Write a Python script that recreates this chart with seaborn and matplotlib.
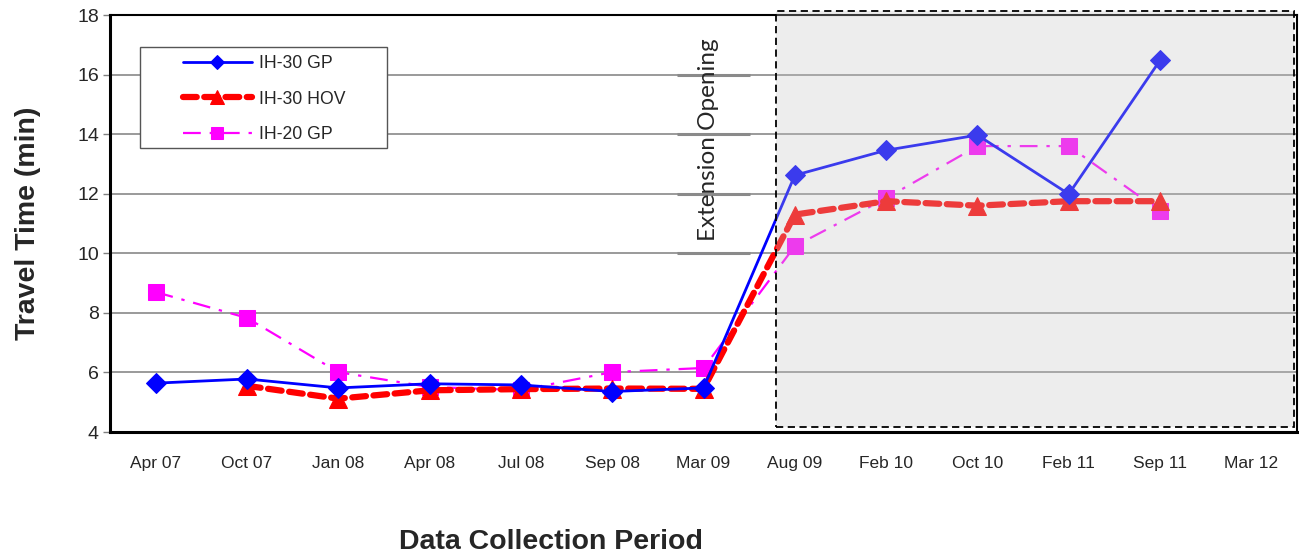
import numpy as np
import pandas as pd
import matplotlib
matplotlib.use("Agg")
import matplotlib.pyplot as plt
from matplotlib.patches import Rectangle
import seaborn as sns

# Data
periods = ["Apr 07", "Oct 07", "Jan 08", "Apr 08", "Jul 08", "Sep 08", "Mar 09",
           "Aug 09", "Feb 10", "Oct 10", "Feb 11", "Sep 11", "Mar 12"]
ih30_gp = [5.64, 5.78, 5.48, 5.62, 5.58, 5.36, 5.48, 12.62, 13.46, 13.97, 11.99, 16.48, np.nan]
ih30_hov = [np.nan, 5.55, 5.12, 5.40, 5.44, 5.46, 5.45, 11.30, 11.75, 11.60, 11.75, 11.75, np.nan]
ih20_gp = [8.70, 7.83, 6.01, 5.51, 5.41, 6.01, 6.15, 10.24, 11.85, 13.60, 13.60, 11.42, np.nan]

df = pd.DataFrame({
    "pos": np.arange(len(periods)),
    "period": periods,
    "IH-30 GP": ih30_gp,
    "IH-30 HOV": ih30_hov,
    "IH-20 GP": ih20_gp,
})

sns.set_style("white")
plt.rcParams["font.family"] = ["Liberation Sans", "DejaVu Sans"]

fig = plt.figure(figsize=(12.99, 5.57), dpi=100)
ax = fig.add_axes([0.0847, 0.2244, 0.9138, 0.7486])

sns.lineplot(data=df, x="pos", y="IH-30 GP", ax=ax, color="#0000ff", lw=2,
             marker="D", markersize=10, markeredgecolor="#0000ff",
             label="IH-30 GP", zorder=4)
sns.lineplot(data=df, x="pos", y="IH-30 HOV", ax=ax, color="#ff0000", lw=4.5,
             marker="^", markersize=13, markeredgecolor="#ff0000",
             dashes=(2.2, 1.2), dash_capstyle="round", label="IH-30 HOV", zorder=3)
sns.lineplot(data=df, x="pos", y="IH-20 GP", ax=ax, color="#ff00ff", lw=1.6,
             marker="s", markersize=12, markeredgecolor="#ff00ff",
             dashes=(8, 4, 1.5, 4), label="IH-20 GP", zorder=2)

# shaded period after the extension opening
rect = Rectangle((6.79, 4.17), 12.47 - 6.79, 18.15 - 4.17, facecolor="#c4c4c4",
                 alpha=0.3, edgecolor="none", zorder=5, clip_on=False)
ax.add_patch(rect)
border = Rectangle((6.79, 4.17), 12.47 - 6.79, 18.15 - 4.17, facecolor="none",
                   edgecolor="black", lw=1.3, ls=(0, (4, 2.5)), zorder=6, clip_on=False)
ax.add_patch(border)

ax.text(6.05, 13.8, "Extension Opening", rotation=90, ha="center", va="center",
        fontsize=17.5, family=["Lato", "DejaVu Sans"], zorder=7)
ax.hlines([10, 12, 14, 16], 5.71, 6.51, color="#8a8a8a", lw=2.2, zorder=1)

ax.set_xlim(-0.5, 12.5)
ax.set_ylim(4, 18)
ax.set_yticks(range(4, 19, 2))
ax.set_xticks(df["pos"])
ax.set_xticklabels(periods, fontsize=12.5)
ax.set_xticks(np.arange(-0.5, 13, 1), minor=True)
ax.tick_params(axis="x", which="major", length=0, pad=17)
ax.tick_params(axis="x", which="minor", length=6, color="#808080", width=1)
ax.tick_params(axis="y", which="major", length=5, width=1, color="#808080",
               labelsize=14, left=True, pad=3)
ax.yaxis.grid(True, color="#7f7f7f", lw=1.1, zorder=0)
ax.set_axisbelow(True)

for side in ["left", "bottom"]:
    ax.spines[side].set_linewidth(2.2)
for side in ["top", "right"]:
    ax.spines[side].set_linewidth(1.5)
for sp in ax.spines.values():
    sp.set_color("black")

ax.set_ylabel("Travel Time (min)", fontsize=20.5, fontweight="bold")
ax.yaxis.set_label_coords(-0.0585, 0.5)
ax.set_xlabel("Data Collection Period", fontsize=20.5, fontweight="bold")
ax.xaxis.set_label_coords(0.3715, -0.232)

# legend with its own frame
leg = ax.legend(loc="upper left", bbox_to_anchor=(0.1409, 0.901),
                bbox_transform=fig.transFigure, fontsize=12.7, frameon=False,
                handlelength=3.9, borderpad=0, labelspacing=1.05,
                handletextpad=0.4, borderaxespad=0, markerscale=0.75)
leg.set_zorder(9)
ax.add_patch(Rectangle((0.1078, 0.7343), 0.190, 0.1813, transform=fig.transFigure,
                       facecolor="white", edgecolor="#555555", lw=1, zorder=8,
                       clip_on=False))

fig.savefig("out.png", dpi=100)
